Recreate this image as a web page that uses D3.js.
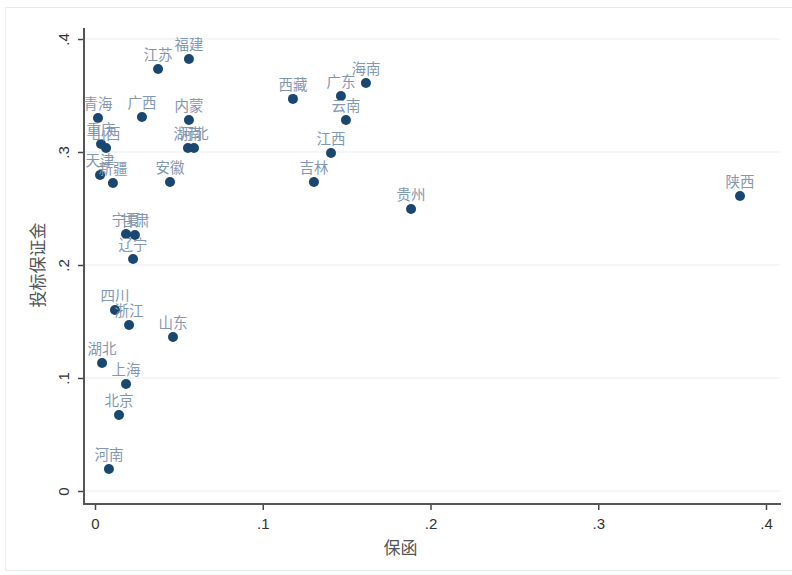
<!DOCTYPE html>
<html>
<head>
<meta charset="utf-8">
<script src="https://cdn.jsdelivr.net/npm/d3@7"></script>
<style>
  body { margin: 0; background: #fff; }
  svg { display: block; }
</style>
</head>
<body>
<div id="canvas"></div>
<script>
// province names, x = 保函, y = 投标保证金
var provinces = ["江苏", "福建", "海南", "西藏", "广东", "云南", "江西", "吉林", "贵州", "陕西",
  "青海", "广西", "内蒙", "湖南", "河北", "重庆", "山西", "天津", "新疆", "安徽",
  "宁夏", "甘肃", "辽宁", "四川", "浙江", "山东", "湖北", "上海", "北京", "河南"];
var baohan = [0.0376, 0.056, 0.1615, 0.118, 0.1466, 0.1496, 0.1407, 0.1305, 0.1884, 0.3845,
  0.0018, 0.028, 0.056, 0.0554, 0.059, 0.0036, 0.0066, 0.003, 0.0107, 0.0447,
  0.0185, 0.0238, 0.0227, 0.0119, 0.0203, 0.0465, 0.0042, 0.0185, 0.0143, 0.0083];
var toubiao = [0.3735, 0.3823, 0.361, 0.347, 0.3496, 0.3283, 0.2991, 0.2735, 0.2496, 0.2611,
  0.3301, 0.331, 0.3283, 0.3035, 0.3035, 0.3071, 0.3035, 0.2796, 0.2726, 0.2735,
  0.2274, 0.2265, 0.2053, 0.1602, 0.1469, 0.1363, 0.1133, 0.0947, 0.0673, 0.0195];
var xTicks = [0, 0.1, 0.2, 0.3, 0.4];
var yTicks = [0, 0.1, 0.2, 0.3, 0.4];
var xTitle = "保函", yTitle = "投标保证金";

var data = provinces.map(function(p, i) { return {name: p, x: baohan[i], y: toubiao[i]}; });

var width = 792, height = 575;
var svg = d3.select("div#canvas").append("svg")
  .attr("width", width)
  .attr("height", height);

// faint outer frame
svg.append("rect")
  .attr("x", 5.5).attr("y", 7.5)
  .attr("width", 790).attr("height", 563)
  .attr("fill", "none")
  .attr("stroke", "#e3ecee");

var x = d3.scaleLinear().domain([0, 0.4]).range([95, 766]);
var y = d3.scaleLinear().domain([0, 0.4]).range([491, 39]);

var fmt = function(d) { return d === 0 ? "0" : d3.format(".1f")(d).replace(/^0/, ""); };

// plot frame edges (note: "top" is taken by window.top, so use other names)
var plotLeft = 84, plotRight = 780, plotBottom = 504, plotTop = 28;

// gridlines
svg.append("g").selectAll("line")
  .data(yTicks)
  .enter().append("line")
  .attr("x1", plotLeft).attr("x2", plotRight)
  .attr("y1", function(d) { return y(d); })
  .attr("y2", function(d) { return y(d); })
  .attr("stroke", "#e6eff1")
  .attr("stroke-width", 1.2);

// x axis
var gx = svg.append("g")
  .attr("transform", "translate(0," + plotBottom + ")")
  .call(d3.axisBottom(x).tickValues(xTicks).tickFormat(fmt).tickSize(6).tickPadding(8));
gx.select(".domain").remove();
gx.append("line")
  .attr("x1", plotLeft).attr("x2", plotRight + 1)
  .attr("y1", 0).attr("y2", 0)
  .attr("stroke", "#555").attr("stroke-width", 2);

// y axis
var gy = svg.append("g")
  .attr("transform", "translate(" + plotLeft + ",0)")
  .call(d3.axisLeft(y).tickValues(yTicks).tickFormat(fmt).tickSize(6).tickPadding(0));
gy.select(".domain").remove();
gy.append("line")
  .attr("x1", 0).attr("x2", 0)
  .attr("y1", plotTop).attr("y2", plotBottom + 1)
  .attr("stroke", "#555").attr("stroke-width", 2);

svg.selectAll(".tick line").attr("stroke", "#444").attr("stroke-width", 1.5);
svg.selectAll(".tick text")
  .attr("fill", "#333")
  .style("font-family", "'Liberation Sans', Arial, sans-serif")
  .style("font-size", "15px");

gy.selectAll(".tick text")
  .attr("x", -21).attr("dy", 0)
  .attr("text-anchor", "middle")
  .attr("transform", "rotate(-90,-21,0)")
  .attr("dominant-baseline", "central");

// axis titles
svg.append("text")
  .attr("x", x(0.2) - 30).attr("y", 554)
  .attr("text-anchor", "middle")
  .attr("fill", "#555")
  .style("font-family", "'Noto Sans CJK SC', sans-serif")
  .style("font-size", "17px")
  .text(xTitle);

svg.append("text")
  .attr("transform", "translate(44," + y(0.2) + ") rotate(-90)")
  .attr("text-anchor", "middle")
  .attr("fill", "#555")
  .style("font-family", "'Noto Sans CJK SC', sans-serif")
  .style("font-size", "17px")
  .text(yTitle);

// points
svg.append("g").selectAll("circle")
  .data(data)
  .enter().append("circle")
  .attr("cx", function(d) { return x(d.x); })
  .attr("cy", function(d) { return y(d.y); })
  .attr("r", 5)
  .attr("fill", "#1a476f");

// labels above points
svg.append("g").selectAll("text")
  .data(data)
  .enter().append("text")
  .attr("x", function(d) { return x(d.x); })
  .attr("y", function(d) { return y(d.y) - 9; })
  .attr("text-anchor", "middle")
  .attr("fill", "#8298b2")
  .style("font-family", "'Noto Sans CJK SC', sans-serif")
  .style("font-size", "14.5px")
  .text(function(d) { return d.name; });
</script>
</body>
</html>
